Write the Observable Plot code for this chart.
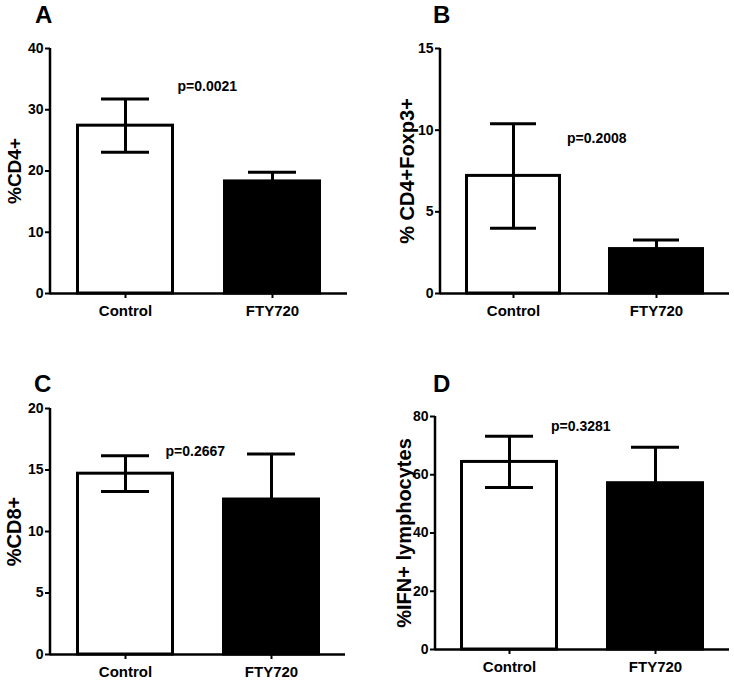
<!DOCTYPE html>
<html>
<head>
<meta charset="utf-8">
<script src="https://cdn.jsdelivr.net/npm/d3@7"></script>
<script src="https://cdn.jsdelivr.net/npm/@observablehq/plot@0.6"></script>
<style>
  html, body { margin: 0; padding: 0; background: white; }
  #root { position: relative; width: 734px; height: 684px; background: white; overflow: hidden; }
  .cell { position: absolute; width: 367px; height: 342px; }
  .letter { position: absolute; font: bold 24px "Liberation Sans", Arial, sans-serif; line-height: 24px; color: black; }
</style>
</head>
<body>
<div id="root"></div>
<script>
// ---- data ----
const groups = ["Control", "FTY720"];
const barFills = ["white", "black"];
const panelLetters = ["A", "B", "C", "D"];
const yLabels = ["%CD4+", "% CD4+Foxp3+", "%CD8+", "%IFN+ lymphocytes"];
const yMax = [40, 15, 20, 80];
const yTicks = [[0, 10, 20, 30, 40], [0, 5, 10, 15], [0, 5, 10, 15, 20], [0, 20, 40, 60, 80]];
const meansA = [27.4, 18.3];
const errA = [4.35, 1.5];
const meansB = [7.2, 2.72];
const errB = [3.2, 0.55];
const meansC = [14.7, 12.6];
const errC = [1.45, 3.7];
const meansD = [64.4, 57.1];
const errD = [8.8, 12.3];
const pTexts = ["p=0.0021", "p=0.2008", "p=0.2667", "p=0.3281"];
const pY = [33.1, 9.23, 16.15, 74.9];

// ---- layout (positions / styles) ----
const layouts = [
  {left: 0,   top: 0,   mL: 50, mR: 20, mT: 48, mB: 49, pDx: 52,   labDx: -30, letterLeft: 35,  letterTop: 3},
  {left: 367, top: 0,   mL: 73, mR: 5,  mT: 48, mB: 49, pDx: 53.5, labDx: -27, letterLeft: 433, letterTop: 3},
  {left: 0,   top: 342, mL: 50, mR: 22, mT: 66, mB: 30, pDx: 40,   labDx: -30, letterLeft: 34,  letterTop: 372},
  {left: 367, top: 342, mL: 68, mR: 5,  mT: 74, mB: 35, pDx: 41.5, labDx: -25, letterLeft: 433, letterTop: 372}
];
const labelSizes = [19, 20, 20, 20];
const allMeans = [meansA, meansB, meansC, meansD];
const allErrs = [errA, errB, errC, errD];

function yAxisLine(top) {
  return (index, scales, values, dimensions) => {
    const {marginLeft} = dimensions;
    return d3.create("svg:line")
      .attr("x1", marginLeft).attr("x2", marginLeft)
      .attr("y1", scales.y(0) + 1.25).attr("y2", scales.y(top))
      .attr("stroke", "black").attr("stroke-width", 2.5)
      .node();
  };
}

const root = document.getElementById("root");

panelLetters.forEach((letter, i) => {
  const L = layouts[i];
  const data = groups.map((g, j) => ({group: g, mean: allMeans[i][j], err: allErrs[i][j]}));
  const plot = Plot.plot({
    width: 367,
    height: 342,
    marginLeft: L.mL,
    marginRight: L.mR,
    marginTop: L.mT,
    marginBottom: L.mB,
    style: {fontFamily: "'Liberation Sans', Arial, sans-serif", fontWeight: "bold", background: "transparent", color: "black"},
    x: {domain: groups, paddingInner: 0.33, paddingOuter: 0.17, label: null},
    y: {domain: [0, yMax[i]], label: null},
    color: {domain: groups, range: barFills},
    marks: [
      Plot.barY(data, {x: "group", y: "mean", fill: "group", stroke: "black", strokeWidth: 3, insetLeft: 1.5, insetRight: 1.5}),
      Plot.ruleX(data, {x: "group", y1: d => d.mean - d.err, y2: d => d.mean + d.err, stroke: "black", strokeWidth: 3}),
      Plot.tickY(data, {x: "group", y: d => d.mean + d.err, stroke: "black", strokeWidth: 3, inset: 25}),
      Plot.tickY(data, {x: "group", y: d => d.mean - d.err, stroke: "black", strokeWidth: 3, inset: 25}),
      Plot.ruleY([0], {stroke: "black", strokeWidth: 2.5}),
      yAxisLine(yMax[i]),
      Plot.axisY({ticks: yTicks[i], tickSize: 5, tickPadding: 2, fontSize: 14, strokeWidth: 2, label: null}),
      Plot.axisX({tickSize: 5, tickPadding: 6.5, fontSize: 15, strokeWidth: 2, label: null}),
      Plot.text([pTexts[i]], {x: () => groups[0], y: () => pY[i], text: d => d, dx: L.pDx, textAnchor: "start", lineAnchor: "bottom", fontSize: 14, fill: "black"}),
      Plot.text([yLabels[i]], {frameAnchor: "left", text: d => d, dx: L.labDx, rotate: -90, textAnchor: "middle", lineAnchor: "bottom", fontSize: labelSizes[i], fill: "black"})
    ]
  });
  const cell = document.createElement("div");
  cell.className = "cell";
  cell.style.left = L.left + "px";
  cell.style.top = L.top + "px";
  cell.appendChild(plot);
  root.appendChild(cell);

  const lt = document.createElement("div");
  lt.className = "letter";
  lt.style.left = L.letterLeft + "px";
  lt.style.top = L.letterTop + "px";
  lt.textContent = letter;
  root.appendChild(lt);
});
</script>
</body>
</html>
